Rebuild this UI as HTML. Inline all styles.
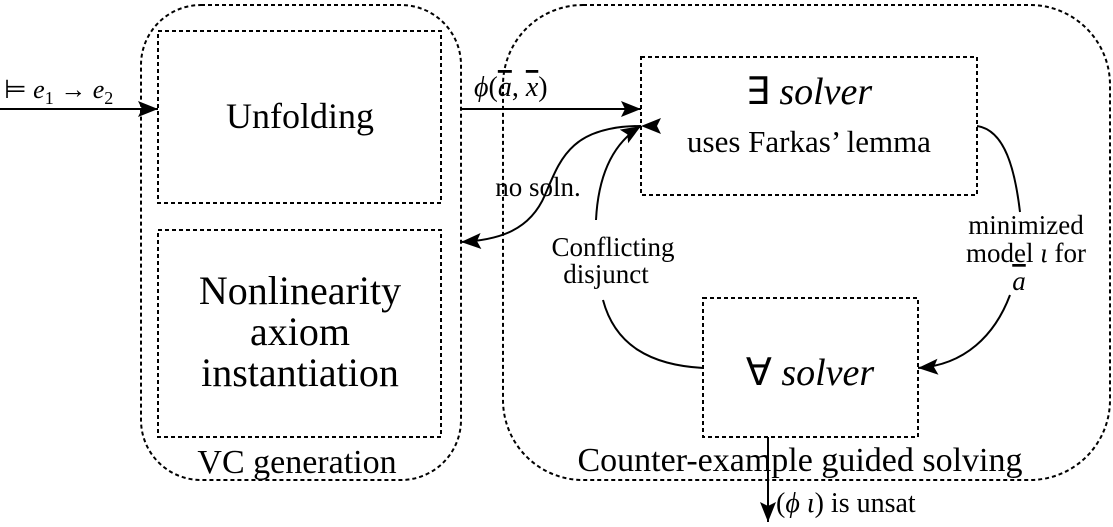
<!DOCTYPE html>
<html><head><meta charset="utf-8"><style>
body{margin:0;background:#fff}
svg{display:block}
text{font-family:"Liberation Serif",serif;fill:#000}
.b{fill:none;stroke:#000;stroke-width:2;stroke-dasharray:4 3}
.l{fill:none;stroke:#000;stroke-width:2}
</style></head><body>
<svg width="1113" height="527" viewBox="0 0 1113 527">
<defs><marker id="a" viewBox="0 0 10 10" refX="10" refY="5" markerWidth="9" markerHeight="9" markerUnits="userSpaceOnUse" orient="auto"><path d="M0,0 L10,5 L0,10 L3,5z" fill="#000"/></marker>
<marker id="A" viewBox="0 0 10 10" refX="10" refY="5" markerWidth="20" markerHeight="20" markerUnits="userSpaceOnUse" orient="auto"><path d="M0,1 L10,5 L0,9 L2,5z" fill="#000"/></marker></defs>
<rect class="b" x="141" y="5" width="320" height="475" rx="60"/>
<rect class="b" x="503" y="5" width="607" height="475" rx="80"/>
<rect class="b" x="158" y="31" width="283" height="172"/>
<rect class="b" x="158" y="230" width="283" height="207"/>
<rect class="b" x="641" y="57" width="336" height="138"/>
<rect class="b" x="703" y="298" width="215" height="139"/>
<line class="l" x1="0" y1="109" x2="158" y2="109" marker-end="url(#A)"/>
<line class="l" x1="461" y1="109" x2="641" y2="109" marker-end="url(#A)"/>
<path class="l" d="M641,126 C570,126 560,160 545,195 C530,230 500,240 461,242" marker-end="url(#A)" marker-start="url(#A)"/>
<path class="l" d="M596,220 C598,180 610,145 641,126" marker-end="url(#A)"/>
<path class="l" d="M703,368 C650,365 615,345 603,300"/>
<path class="l" d="M977,126 C1005,130 1015,170 1020,212"/>
<path class="l" d="M1010,295 C995,335 965,365 918,368" marker-end="url(#A)"/>
<line class="l" x1="768" y1="437" x2="768" y2="522" marker-end="url(#A)"/>
<text x="4" y="98" font-size="26">⊨ <tspan font-style="italic">e</tspan><tspan font-size="18" dy="6">1</tspan><tspan dy="-6"> → </tspan><tspan font-style="italic">e</tspan><tspan font-size="18" dy="6">2</tspan></text>
<text x="474" y="96" font-size="28"><tspan font-style="italic">ϕ</tspan>(<tspan font-style="italic" text-decoration="overline">a</tspan>, <tspan font-style="italic" text-decoration="overline">x</tspan>)</text>
<text x="300" y="128" font-size="36" text-anchor="middle">Unfolding</text>
<text x="300" y="304" font-size="40" text-anchor="middle">Nonlinearity</text>
<text x="300" y="345" font-size="40" text-anchor="middle">axiom</text>
<text x="300" y="386" font-size="40" text-anchor="middle">instantiation</text>
<text x="809" y="104" font-size="38" text-anchor="middle">∃ <tspan font-style="italic">solver</tspan></text>
<text x="809" y="152" font-size="31" text-anchor="middle">uses Farkas’ lemma</text>
<text x="810" y="385" font-size="38" text-anchor="middle">∀ <tspan font-style="italic">solver</tspan></text>
<text x="538" y="196" font-size="27" text-anchor="middle">no soln.</text>
<text x="613" y="256" font-size="27" text-anchor="middle">Conflicting</text>
<text x="606" y="283" font-size="27" text-anchor="middle">disjunct</text>
<text x="1026" y="234" font-size="27" text-anchor="middle">minimized</text>
<text x="1026" y="262" font-size="27" text-anchor="middle">model <tspan font-style="italic">ι</tspan> for</text>
<text x="1019" y="290" font-size="27" text-anchor="middle" font-style="italic" text-decoration="overline">a</text>
<text x="297" y="473" font-size="34" text-anchor="middle">VC generation</text>
<text x="800" y="471" font-size="34" text-anchor="middle">Counter-example guided solving</text>
<text x="776" y="512" font-size="28">(<tspan font-style="italic">ϕ ι</tspan>) is unsat</text>
</svg>
</body></html>
